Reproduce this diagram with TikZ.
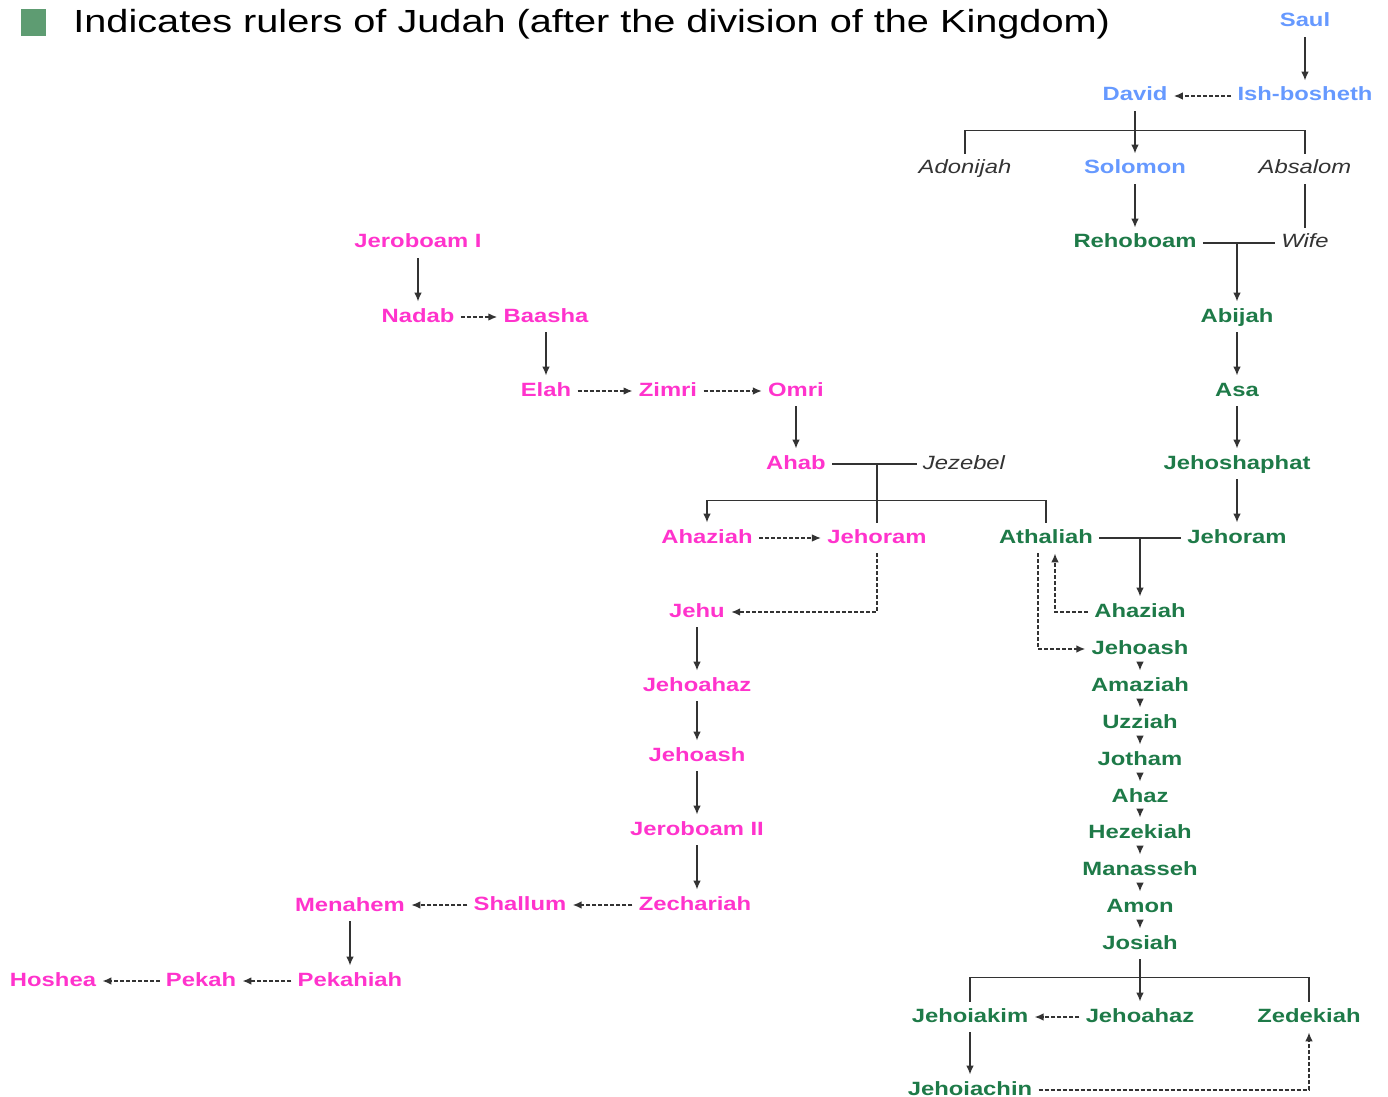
\documentclass[tikz,border=0pt]{standalone}
\usepackage{fontspec}
\setmainfont{Liberation Sans}[FakeStretch=1.24]
\usepackage{tikz}
\usetikzlibrary{arrows.meta}

\definecolor{israel}{HTML}{FF33CC}
\definecolor{judah}{HTML}{1E7A48}
\definecolor{united}{HTML}{6699FF}
\definecolor{keygreen}{HTML}{5E9C72}
\definecolor{linegray}{HTML}{333333}

\begin{document}
\begin{tikzpicture}[x=0.5pt, y=-0.5pt,
        ruler/.style={font=\fontsize{9.6}{11}\selectfont\bfseries, text height=7pt, text depth=2pt, inner sep=3pt},
        kingN/.style={ruler, text=israel},
        kingS/.style={ruler, text=judah},
        kingU/.style={ruler, text=united},
        other/.style={ruler, font=\fontsize{9.6}{11}\selectfont\itshape, text=linegray},
        tie/.style={draw=linegray, line width=0.75pt},
        descent/.style={tie, -{Latex[length=4.5pt,width=3.8pt]}},
        successor/.style={descent, dash pattern=on 2pt off 1pt}]
        \useasboundingbox (0,0) rectangle (1388,1097);

        % Legend
        \node[fill=keygreen, minimum width=12.5pt, minimum height=13.5pt, inner sep=0pt] (key) at (33,23) {};
        \node[anchor=base west, inner sep=0pt, font=\fontsize{16}{18}\selectfont] (title) at (73,33)
            {Indicates rulers of Judah (after the division of the Kingdom)};

        % United kingdom
        \node[kingU] (saul) at (1305,22) {Saul};
        \node[kingU] (ishbosheth) at (1305,96) {Ish-bosheth};
        \node[kingU] (david) at (1135,96) {David};
        \node[other] (adonijah) at (965,169) {Adonijah};
        \node[kingU] (solomon) at (1135,169) {Solomon};
        \node[other] (absalom) at (1305,169) {Absalom};
        \node[other] (wife) at (1305,243) {Wife};

        % Judah
        \node[kingS] (rehoboam) at (1135,243) {Rehoboam};
        \node[kingS] (abijah) at (1237,317) {Abijah};
        \node[kingS] (asa) at (1237,391) {Asa};
        \node[kingS] (jehoshaphat) at (1237,464) {Jehoshaphat};
        \node[kingS] (jehoramS) at (1237,538) {Jehoram};
        \node[kingS] (athaliah) at (1046,538) {Athaliah};
        \node[kingS] (ahaziahS) at (1140,612) {Ahaziah};
        \node[kingS] (jehoashS) at (1140,649) {Jehoash};
        \node[kingS] (amaziah) at (1140,686) {Amaziah};
        \node[kingS] (uzziah) at (1140,723) {Uzziah};
        \node[kingS] (jotham) at (1140,760) {Jotham};
        \node[kingS] (ahaz) at (1140,797) {Ahaz};
        \node[kingS] (hezekiah) at (1140,833) {Hezekiah};
        \node[kingS] (manasseh) at (1140,870) {Manasseh};
        \node[kingS] (amon) at (1140,907) {Amon};
        \node[kingS] (josiah) at (1140,944) {Josiah};
        \node[kingS] (jehoiakim) at (970,1017) {Jehoiakim};
        \node[kingS] (jehoahazS) at (1140,1017) {Jehoahaz};
        \node[kingS] (zedekiah) at (1309,1017) {Zedekiah};
        \node[kingS] (jehoiachin) at (970,1090) {Jehoiachin};

        % Israel
        \node[kingN] (jeroboamI) at (418,243) {Jeroboam I};
        \node[kingN] (nadab) at (418,317) {Nadab};
        \node[kingN] (baasha) at (546,317) {Baasha};
        \node[kingN] (elah) at (546,391) {Elah};
        \node[kingN] (zimri) at (668,391) {Zimri};
        \node[kingN] (omri) at (796,391) {Omri};
        \node[kingN] (ahab) at (796,464) {Ahab};
        \node[other] (jezebel) at (964,464) {Jezebel};
        \node[kingN] (ahaziahN) at (707,538) {Ahaziah};
        \node[kingN] (jehoramN) at (877,538) {Jehoram};
        \node[kingN] (jehu) at (697,612) {Jehu};
        \node[kingN] (jehoahazN) at (697,686) {Jehoahaz};
        \node[kingN] (jehoashN) at (697,756) {Jehoash};
        \node[kingN] (jeroboamII) at (697,830) {Jeroboam II};
        \node[kingN] (zechariah) at (695,905) {Zechariah};
        \node[kingN] (shallum) at (520,905) {Shallum};
        \node[kingN] (menahem) at (350,906) {Menahem};
        \node[kingN] (pekahiah) at (350,981) {Pekahiah};
        \node[kingN] (pekah) at (201,981) {Pekah};
        \node[kingN] (hoshea) at (53,981) {Hoshea};

        % United kingdom lines
        \draw[descent] (saul) -- (ishbosheth);
        \draw[successor] (ishbosheth) -- (david);
        \draw[descent] (david) -- (solomon);
        \draw[tie] (adonijah.north) -- ++(0,-23) -| (absalom.north);
        \draw[descent] (solomon) -- (rehoboam);
        \draw[tie] (absalom) -- (wife);

        % Judah lines
        \draw[tie] (rehoboam) -- (wife);
        \draw[descent] (abijah.north |- rehoboam) -- (abijah);
        \draw[descent] (abijah) -- (asa);
        \draw[descent] (asa) -- (jehoshaphat);
        \draw[descent] (jehoshaphat) -- (jehoramS);
        \draw[tie] (athaliah) -- (jehoramS);
        \draw[descent] (ahaziahS.north |- athaliah) -- (ahaziahS);
        \draw[successor] (ahaziahS) -| ([xshift=4.5pt]athaliah.south);
        \draw[successor] ([xshift=-4pt]athaliah.south) |- (jehoashS);
        \foreach \a/\b in {jehoashS/amaziah, amaziah/uzziah, uzziah/jotham, jotham/ahaz,
                ahaz/hezekiah, hezekiah/manasseh, manasseh/amon, amon/josiah, josiah/jehoahazS}
            \draw[descent] (\a) -- (\b);
        \draw[tie] (jehoiakim.north) -- ++(0,-24) -| (zedekiah.north);
        \draw[successor] (jehoahazS) -- (jehoiakim);
        \draw[descent] (jehoiakim) -- (jehoiachin);
        \draw[successor] (jehoiachin) -| (zedekiah);

        % Israel lines
        \draw[descent] (jeroboamI) -- (nadab);
        \draw[successor] (nadab) -- (baasha);
        \draw[descent] (baasha) -- (elah);
        \draw[successor] (elah) -- (zimri);
        \draw[successor] (zimri) -- (omri);
        \draw[descent] (omri) -- (ahab);
        \draw[tie] (ahab) -- (jezebel);
        \draw[tie] (jehoramN.north |- ahab) -- (jehoramN);
        \draw[descent] (athaliah.north) -- ++(0,-22) -| (ahaziahN);
        \draw[successor] (ahaziahN) -- (jehoramN);
        \draw[successor] (jehoramN) |- (jehu);
        \foreach \a/\b in {jehu/jehoahazN, jehoahazN/jehoashN, jehoashN/jeroboamII}
            \draw[descent] (\a) -- (\b);
        \draw[descent] (jeroboamII) -- (jeroboamII |- zechariah.north);
        \draw[successor] (zechariah) -- (shallum);
        \draw[successor] (shallum) -- (shallum -| menahem.east);
        \draw[descent] (menahem) -- (pekahiah);
        \draw[successor] (pekahiah) -- (pekah);
        \draw[successor] (pekah) -- (hoshea);
\end{tikzpicture}
\end{document}
